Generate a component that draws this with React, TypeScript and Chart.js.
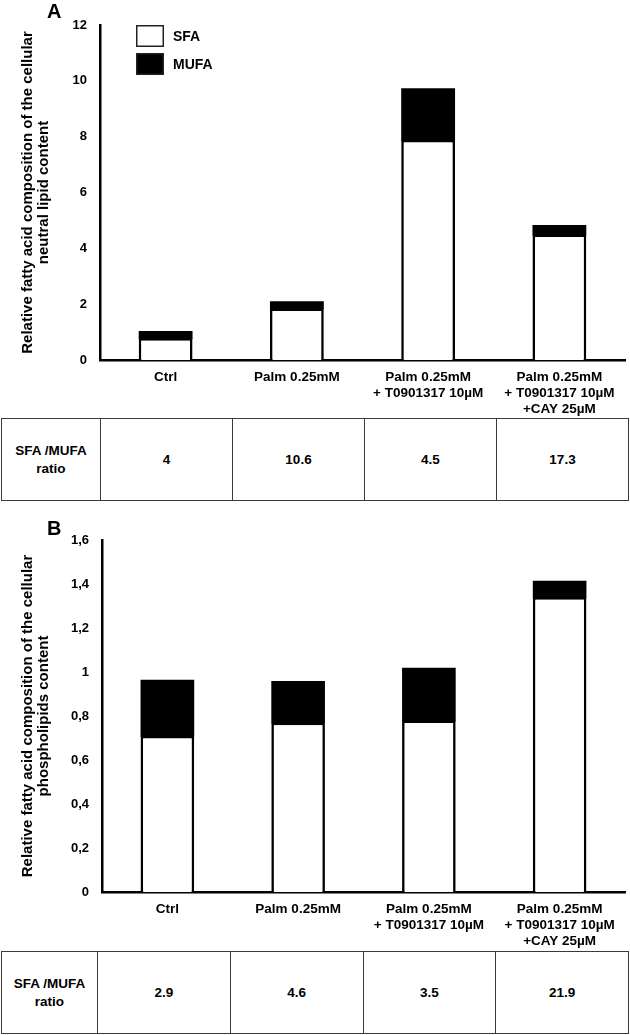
import React, { useEffect, useRef } from 'react';
import { Chart, registerables } from 'chart.js';

Chart.register(...registerables);

// ---------- data ----------
const categories: string[][] = [
  ['Ctrl'],
  ['Palm 0.25mM'],
  ['Palm 0.25mM', '+ T0901317 10µM'],
  ['Palm 0.25mM', '+ T0901317 10µM', '+CAY 25µM'],
];
const seriesNames = ['SFA', 'MUFA'];

const neutralSFA = [0.78, 1.85, 7.88, 4.5];
const neutralMUFA = [0.22, 0.22, 1.82, 0.3];

const phosphoSFA = [0.71, 0.77, 0.78, 1.34];
const phosphoMUFA = [0.25, 0.185, 0.235, 0.07];

const yTicksA = ['0', '2', '4', '6', '8', '10', '12'];
const yTicksB = ['0', '0,2', '0,4', '0,6', '0,8', '1', '1,2', '1,4', '1,6'];

const yTitleA = ['Relative fatty acid composition of the cellular', 'neutral lipid content'];
const yTitleB = ['Relative fatty acid composition of the cellular', 'phospholipids content'];

const ratioHeader = ['SFA /MUFA', 'ratio'];
const ratiosA = ['4', '10.6', '4.5', '17.3'];
const ratiosB = ['2.9', '4.6', '3.5', '21.9'];

// ---------- styling ----------
const FONT = "'Liberation Sans', Arial, Helvetica, sans-serif";

const boxLegend = {
  id: 'boxLegend',
  afterDraw(chart: any, _args: any, opts: any) {
    if (!opts || !opts.display) return;
    const { ctx, chartArea } = chart;
    chart.data.datasets.forEach((ds: any, i: number) => {
      const x = chartArea.left + opts.offsetX;
      const y = chartArea.top + opts.offsetY + i * opts.step;
      ctx.save();
      ctx.fillStyle = ds.backgroundColor;
      ctx.fillRect(x, y, opts.boxW, opts.boxH);
      ctx.lineWidth = 1.5;
      ctx.strokeStyle = '#222';
      ctx.strokeRect(x + 0.75, y + 0.75, opts.boxW - 1.5, opts.boxH - 1.5);
      ctx.fillStyle = '#000';
      ctx.font = `bold 14px ${FONT}`;
      ctx.textBaseline = 'middle';
      ctx.textAlign = 'left';
      ctx.fillText(ds.label, x + opts.boxW + 9, y + opts.boxH / 2 + 1);
      ctx.restore();
    });
  },
};

function makeConfig(p: {
  sfa: number[];
  mufa: number[];
  yMax: number;
  yStep: number;
  yLabels: string[];
  yTitle: string[];
  yWidth: number;
  padTop: number;
  xHeight: number;
  legend: boolean;
}): any {
  return {
    type: 'bar',
    data: {
      labels: categories,
      datasets: [
        {
          label: seriesNames[0],
          data: p.sfa,
          backgroundColor: '#ffffff',
          borderColor: '#000000',
          borderWidth: 2.6,
          borderSkipped: 'start',
          inflateAmount: 0,
          barPercentage: 0.41,
          categoryPercentage: 1,
        },
        {
          label: seriesNames[1],
          data: p.mufa,
          backgroundColor: '#000000',
          borderColor: '#000000',
          borderWidth: 0,
          inflateAmount: 1,
          barPercentage: 0.395,
          categoryPercentage: 1,
        },
      ],
    },
    options: {
      responsive: false,
      animation: false,
      events: [],
      layout: { padding: { top: p.padTop, right: 5, left: 0, bottom: 0 } },
      plugins: {
        legend: { display: false },
        tooltip: { enabled: false },
        boxLegend: { display: p.legend, offsetX: 36, offsetY: 0, step: 28, boxW: 28, boxH: 22 },
      },
      scales: {
        x: {
          stacked: true,
          grid: { display: false, drawTicks: false },
          border: { display: true, color: '#000', width: 2.5 },
          ticks: {
            color: '#000',
            padding: 9,
            autoSkip: false,
            maxRotation: 0,
            minRotation: 0,
            font: { family: FONT, size: 13.5, weight: 'bold', lineHeight: 1.2 },
          },
          afterFit: (scale: any) => {
            scale.height = p.xHeight;
          },
        },
        y: {
          stacked: true,
          min: 0,
          max: p.yMax,
          grid: { display: false, drawTicks: false },
          border: { display: true, color: '#000', width: 2.5 },
          ticks: {
            stepSize: p.yStep,
            color: '#000',
            padding: 13,
            font: { family: FONT, size: 13, weight: 'bold' },
            callback: (_v: any, i: number) => p.yLabels[i],
          },
          title: {
            display: true,
            text: p.yTitle,
            color: '#000',
            padding: { top: 20, bottom: 0 },
            font: { family: FONT, size: 15, weight: 'bold', lineHeight: 1.07 },
          },
          afterFit: (scale: any) => {
            scale.width = p.yWidth;
          },
        },
      },
    },
    plugins: [boxLegend],
  };
}

function BarChart(props: { top: number; height: number; cfg: any }) {
  const ref = useRef<HTMLCanvasElement | null>(null);
  useEffect(() => {
    if (!ref.current) return;
    const chart = new Chart(ref.current, props.cfg);
    return () => chart.destroy();
  }, []);
  return (
    <canvas
      ref={ref}
      width={630}
      height={props.height}
      style={{ position: 'absolute', left: 0, top: props.top, width: 630, height: props.height, display: 'block' }}
    />
  );
}

function RatioTable(props: { top: number; firstCol: number; values: string[] }) {
  const border = '1px solid #3a3a3a';
  const cellBase: React.CSSProperties = {
    display: 'flex',
    alignItems: 'center',
    justifyContent: 'center',
    textAlign: 'center',
    boxSizing: 'border-box',
    height: '100%',
  };
  return (
    <div
      style={{
        position: 'absolute',
        left: 1,
        top: props.top,
        width: 628,
        height: 83,
        border,
        boxSizing: 'border-box',
        display: 'flex',
        fontFamily: FONT,
        fontWeight: 'bold',
        fontSize: 13.5,
        color: '#000',
      }}
    >
      <div style={{ ...cellBase, width: props.firstCol - 1, borderRight: border, lineHeight: '18px', flexDirection: 'column' }}>
        {ratioHeader.map((t, i) => (
          <div key={i}>{t}</div>
        ))}
      </div>
      {props.values.map((v, i) => (
        <div key={i} style={{ ...cellBase, flex: 1, borderRight: i < props.values.length - 1 ? border : 'none' }}>
          {v}
        </div>
      ))}
    </div>
  );
}

const cfgA = makeConfig({
  sfa: neutralSFA,
  mufa: neutralMUFA,
  yMax: 12,
  yStep: 2,
  yLabels: yTicksA,
  yTitle: yTitleA,
  yWidth: 100,
  padTop: 25,
  xHeight: 58,
  legend: true,
});

const cfgB = makeConfig({
  sfa: phosphoSFA,
  mufa: phosphoMUFA,
  yMax: 1.6,
  yStep: 0.2,
  yLabels: yTicksB,
  yTitle: yTitleB,
  yWidth: 102,
  padTop: 30,
  xHeight: 59,
  legend: false,
});

export default function App() {
  const letter: React.CSSProperties = {
    position: 'absolute',
    fontFamily: FONT,
    fontWeight: 'bold',
    fontSize: 20,
    lineHeight: '20px',
    color: '#000',
  };
  return (
    <div style={{ position: 'absolute', left: 0, top: 0, width: 630, height: 1035, background: '#fff', overflow: 'hidden' }}>
      <BarChart top={0} height={418} cfg={cfgA} />
      <RatioTable top={418} firstCol={100} values={ratiosA} />
      <BarChart top={510} height={441} cfg={cfgB} />
      <RatioTable top={951} firstCol={97} values={ratiosB} />
      <div style={{ ...letter, left: 47, top: 1 }}>A</div>
      <div style={{ ...letter, left: 47, top: 518 }}>B</div>
    </div>
  );
}
